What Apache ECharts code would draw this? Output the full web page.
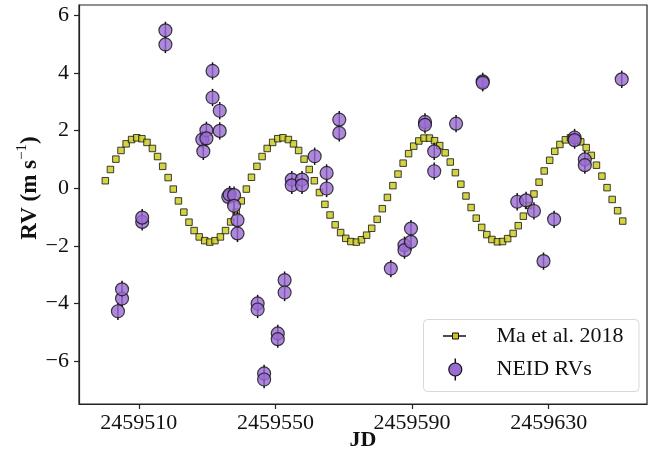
<!DOCTYPE html>
<html>
<head>
<meta charset="utf-8">
<script src="https://cdn.jsdelivr.net/npm/echarts@6/dist/echarts.min.js"></script>
<style>html,body{margin:0;padding:0;background:#fff;}#c{width:649px;height:460px;}</style>
</head>
<body>
<div id="c"></div>
<script>
// Model curve (Ma et al. 2018): JD and RV
const modelJD = [2459500.2,2459501.7,2459503.3,2459504.8,2459506.3,2459507.9,2459509.4,2459510.9,2459512.4,2459514.0,
2459515.5,2459517.0,2459518.6,2459520.1,2459521.6,2459523.2,2459524.7,2459526.2,2459527.7,2459529.3,
2459530.8,2459532.3,2459533.9,2459535.4,2459536.9,2459538.5,2459540.0,2459541.5,2459543.0,2459544.6,
2459546.1,2459547.6,2459549.2,2459550.7,2459552.2,2459553.8,2459555.3,2459556.8,2459558.4,2459559.9,
2459561.4,2459562.9,2459564.5,2459566.0,2459567.5,2459569.1,2459570.6,2459572.1,2459573.7,2459575.2,
2459576.7,2459578.2,2459579.8,2459581.3,2459582.8,2459584.4,2459585.9,2459587.4,2459589.0,2459590.5,
2459592.0,2459593.5,2459595.1,2459596.6,2459598.1,2459599.7,2459601.2,2459602.7,2459604.3,2459605.8,
2459607.3,2459608.8,2459610.4,2459611.9,2459613.4,2459615.0,2459616.5,2459618.0,2459619.6,2459621.1,
2459622.6,2459624.1,2459625.7,2459627.2,2459628.7,2459630.3,2459631.8,2459633.3,2459634.9,2459636.4,
2459637.9,2459639.4,2459641.0,2459642.5,2459644.0,2459645.6,2459647.1,2459648.6,2459650.2,2459651.7];
const modelRV = [0.26,0.65,1.01,1.31,1.54,1.69,1.75,1.72,1.59,1.38,
1.10,0.76,0.37,-0.03,-0.44,-0.83,-1.18,-1.47,-1.69,-1.82,
-1.87,-1.82,-1.69,-1.47,-1.17,-0.83,-0.44,-0.03,0.38,0.76,
1.10,1.38,1.59,1.72,1.75,1.69,1.54,1.31,1.01,0.65,
0.26,-0.15,-0.56,-0.93,-1.27,-1.54,-1.74,-1.85,-1.87,-1.79,
-1.63,-1.39,-1.08,-0.71,-0.32,0.09,0.49,0.87,1.20,1.46,
1.64,1.74,1.74,1.65,1.48,1.23,0.91,0.54,0.14,-0.27,
-0.67,-1.04,-1.36,-1.61,-1.78,-1.86,-1.85,-1.75,-1.57,-1.30,
-0.97,-0.60,-0.20,0.21,0.60,0.97,1.28,1.52,1.68,1.75,
1.72,1.61,1.41,1.14,0.80,0.42,0.02,-0.39,-0.78,-1.14];

// NEID RVs
const neidJD = [2459503.9,2459505.1,2459505.1,2459511.0,2459511.0,2459517.8,2459517.8,2459528.6,2459528.9,2459529.8,
2459529.8,2459531.6,2459531.6,2459533.7,2459533.7,2459536.2,2459536.6,2459537.9,2459537.9,2459538.9,
2459538.9,2459544.8,2459544.8,2459546.7,2459546.7,2459550.7,2459550.7,2459552.7,2459552.7,2459554.8,
2459554.8,2459557.8,2459557.8,2459561.5,2459565.0,2459565.0,2459568.7,2459568.7,2459583.8,2459587.8,
2459587.8,2459589.7,2459589.7,2459593.8,2459593.8,2459596.5,2459596.5,2459602.9,2459610.7,2459610.7,
2459620.8,2459623.4,2459625.7,2459628.5,2459631.6,2459637.6,2459637.6,2459640.6,2459640.6,2459651.4];
const neidRV = [-4.27,-3.83,-3.51,-1.17,-1.02,5.48,4.99,1.69,1.28,2.01,
1.73,4.07,3.15,2.69,1.99,-0.30,-0.22,-0.24,-0.61,-1.11,
-1.57,-4.00,-4.21,-6.43,-6.64,-5.04,-5.24,-3.19,-3.62,0.30,
0.10,0.30,0.10,1.11,0.53,-0.01,2.38,1.92,-2.79,-1.98,
-2.15,-1.40,-1.86,2.30,2.20,1.28,0.59,2.24,3.71,3.66,
-0.47,-0.42,-0.79,-2.53,-1.08,1.76,1.67,1.00,0.80,3.78];
const neidErr = [0.3,0.3,0.3,0.3,0.3,0.3,0.3,0.3,0.3,0.3,
0.3,0.3,0.3,0.3,0.3,0.3,0.3,0.3,0.3,0.3,
0.3,0.3,0.3,0.3,0.3,0.3,0.3,0.3,0.3,0.3,
0.3,0.3,0.3,0.3,0.3,0.3,0.3,0.3,0.3,0.3,
0.3,0.3,0.3,0.3,0.3,0.3,0.3,0.3,0.3,0.3,
0.3,0.3,0.3,0.3,0.3,0.3,0.3,0.3,0.3,0.3];

const xTicks = [2459510, 2459550, 2459590, 2459630];
const yTicks = [-6, -4, -2, 0, 2, 4, 6];
const legendNames = ['Ma et al. 2018', 'NEID RVs'];
const xTitle = 'JD';

const FONT = '"Liberation Serif", "Times New Roman", serif';
const chart = echarts.init(document.getElementById('c'), null, {renderer: 'canvas'});

const modelData = modelJD.map((x, i) => [x, modelRV[i]]);
const neidData = neidJD.map((x, i) => [x, neidRV[i], neidErr[i]]);

const option = {
  animation: false,
  backgroundColor: '#fff',
  grid: {left: 79, right: 2, top: 5, bottom: 56, show: true, borderColor: '#222', borderWidth: 1.2, backgroundColor: 'transparent'},
  xAxis: {
    type: 'value', min: 2459492.5, max: 2459658.8,
    splitLine: {show: false},
    axisLine: {onZero: false, lineStyle: {color: '#222', width: 1.2}},
    axisTick: {show: true, length: 5, inside: false, customValues: xTicks, lineStyle: {color: '#222', width: 1.2}},
    axisLabel: {customValues: xTicks, formatter: v => String(Math.round(v)), fontFamily: FONT, fontSize: 22, color: '#111', margin: 8}
  },
  yAxis: {
    type: 'value', min: -7.49, max: 6.36,
    splitLine: {show: false},
    axisLine: {show: true, onZero: false, lineStyle: {color: '#222', width: 1.2}},
    axisTick: {show: true, length: 5, inside: false, customValues: yTicks, lineStyle: {color: '#222', width: 1.2}},
    axisLabel: {customValues: yTicks, formatter: v => (v < 0 ? '\u2212' + Math.abs(v) : String(v)), fontFamily: FONT, fontSize: 22, color: '#111', margin: 10}
  },
  series: [
    {
      name: legendNames[0], type: 'scatter', data: modelData, symbol: 'rect', symbolSize: 6.5,
      itemStyle: {color: '#c8c816', borderColor: '#111', borderWidth: 1}, z: 2
    },
    {
      name: legendNames[1] + ' err', type: 'custom', data: neidData, z: 3,
      renderItem: function (params, api) {
        const x = api.value(0), y = api.value(1), e = api.value(2);
        const p1 = api.coord([x, y - e]);
        const p2 = api.coord([x, y + e]);
        return {type: 'line', shape: {x1: p1[0], y1: p1[1], x2: p2[0], y2: p2[1]}, style: {stroke: '#111', lineWidth: 1.5}};
      }
    },
    {
      name: legendNames[1], type: 'scatter', data: neidData, symbol: 'circle', symbolSize: 13,
      itemStyle: {color: '#9a6bd2', borderColor: '#111', borderWidth: 1.2}, z: 4
    }
  ],
  graphic: [
    {type: 'text', x: 363, y: 440, style: {text: xTitle, font: 'bold 22px ' + FONT, fill: '#111', align: 'center', verticalAlign: 'middle'}, z: 10},
    {type: 'text', x: 28, y: 188, rotation: Math.PI / 2,
      style: {text: '{a|RV (m s}{b|\u22121}{a|)}', align: 'center', verticalAlign: 'middle', fill: '#111',
        rich: {a: {font: 'bold 23px ' + FONT, fill: '#111', lineHeight: 27, verticalAlign: 'bottom'},
               b: {font: '15px ' + FONT, fill: '#111', lineHeight: 27, verticalAlign: 'top', padding: [0, 0, 10, 0]}}}, z: 10},
    {type: 'rect', shape: {x: 423.5, y: 319.5, width: 215.5, height: 72, r: 4}, style: {fill: 'rgba(255,255,255,0.85)', stroke: '#d8d8d8', lineWidth: 1}, z: 20},
    {type: 'line', shape: {x1: 443, y1: 336, x2: 466, y2: 336}, style: {stroke: '#111', lineWidth: 1.5}, z: 21},
    {type: 'rect', shape: {x: 452.5, y: 333, width: 6, height: 6}, style: {fill: '#c8c816', stroke: '#111', lineWidth: 1}, z: 22},
    {type: 'text', x: 496.5, y: 336, style: {text: legendNames[0], font: '22px ' + FONT, fill: '#111', align: 'left', verticalAlign: 'middle'}, z: 21},
    {type: 'line', shape: {x1: 455.3, y1: 358.5, x2: 455.3, y2: 380.5}, style: {stroke: '#111', lineWidth: 1.5}, z: 21},
    {type: 'circle', shape: {cx: 455.3, cy: 369.5, r: 6.5}, style: {fill: '#9a6bd2', stroke: '#111', lineWidth: 1.2}, z: 22},
    {type: 'text', x: 496.5, y: 369.5, style: {text: legendNames[1], font: '22px ' + FONT, fill: '#111', align: 'left', verticalAlign: 'middle'}, z: 21}
  ]
};
chart.setOption(option);
</script>
</body>
</html>
